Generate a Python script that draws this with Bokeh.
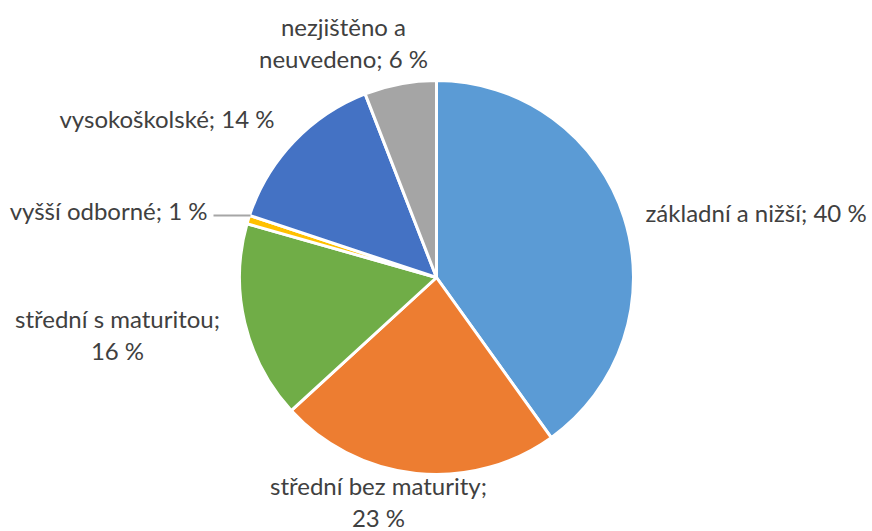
import math
from bokeh.plotting import figure
from bokeh.models import Range1d, ColumnDataSource
from bokeh.core.properties import value
from bokeh.embed import file_html
from bokeh.resources import INLINE

# data
categories = ["základní a nižší", "střední bez maturity", "střední s maturitou",
              "vyšší odborné", "vysokoškolské", "nezjištěno a neuvedeno"]
shares = [40.1, 23.1, 16.2, 0.7, 14.0, 5.9]
label_texts = ["základní a nižší; 40 %", "střední bez maturity;\n23 %",
               "střední s maturitou;\n16 %", "vyšší odborné; 1 %",
               "vysokoškolské; 14 %", "nezjištěno a\nneuvedeno; 6 %"]
colors = ["#5B9BD5", "#ED7D31", "#70AD47", "#FFC000", "#4472C4", "#A5A5A5"]

W, H = 872, 531
p = figure(width=W, height=H, output_backend="svg", toolbar_location=None,
           x_range=Range1d(0, W), y_range=Range1d(0, H),
           x_axis_type=None, y_axis_type=None, min_border=0)
p.outline_line_color = None
p.grid.visible = False

def px(x):
    return x

def py(y):
    return H - y

cx, cy, r = px(436), py(277), 197
total = sum(shares)
starts, ends = [], []
acc = 0.0
for v in shares:
    a0 = math.pi / 2 - 2 * math.pi * (acc + v) / total
    a1 = math.pi / 2 - 2 * math.pi * acc / total
    starts.append(a0)
    ends.append(a1)
    acc += v

src = ColumnDataSource(dict(start=starts, end=ends, color=colors))
p.wedge(x=cx, y=cy, radius=r, start_angle="start", end_angle="end",
        fill_color="color", line_color="white", line_width=3, source=src)

# leader line for the small slice
p.line(x=[px(213), px(250)], y=[py(215), py(215)], line_color="#A6A6A6", line_width=2)

# label anchors (page pixels) and alignment
lab_x = [645, 378, 117, 207, 274, 343]
lab_y = [212, 501, 334, 210, 118, 42]
lab_align = ["left", "center", "center", "right", "right", "center"]
lsrc = ColumnDataSource(dict(x=[px(v) for v in lab_x], y=[py(v) for v in lab_y],
                             t=label_texts, a=lab_align))
p.text(x="x", y="y", text="t", text_align="a", text_baseline="middle",
       text_font=value("Lato"), text_font_size="24px", text_color="#404040",
       text_line_height=1.1, source=lsrc)

open("out.html", "w").write(file_html(p, INLINE))
